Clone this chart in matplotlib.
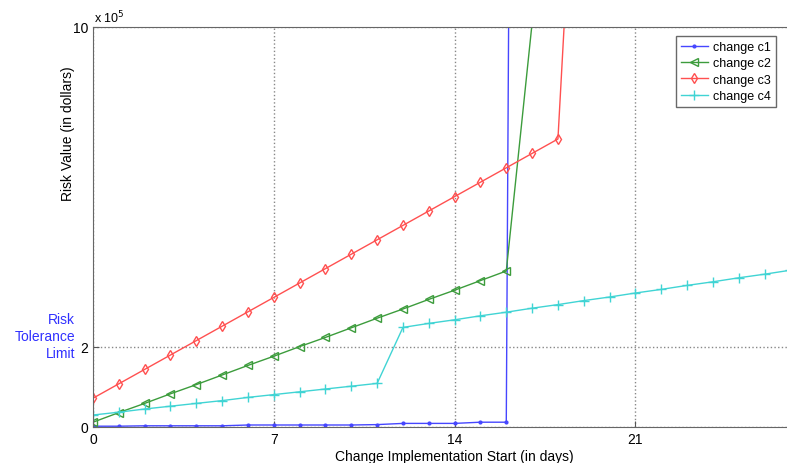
import matplotlib
matplotlib.use("Agg")
import matplotlib.pyplot as plt

# data (values in units of 1e5 dollars)
days_c1 = list(range(0, 18))
risk_c1 = [0.02, 0.02, 0.03, 0.03, 0.03, 0.03, 0.05, 0.05, 0.05, 0.05, 0.05,
           0.06, 0.09, 0.09, 0.09, 0.12, 0.12, 110]
days_c2 = list(range(0, 18))
risk_c2 = [0.12, 0.36, 0.59, 0.83, 1.06, 1.30, 1.54, 1.77, 2.01, 2.24, 2.48,
           2.72, 2.95, 3.19, 3.42, 3.66, 3.90, 10.1]
days_c3 = list(range(0, 20))
risk_c3 = [0.72, 1.08, 1.44, 1.80, 2.16, 2.52, 2.88, 3.24, 3.60, 3.96, 4.32,
           4.68, 5.04, 5.40, 5.76, 6.12, 6.48, 6.84, 7.20, 19.0]
days_c4 = list(range(0, 29))
risk_c4 = [0.30, 0.37, 0.45, 0.52, 0.59, 0.66, 0.74, 0.81, 0.88, 0.95, 1.02,
           1.09, 2.49, 2.59, 2.68, 2.78, 2.87, 2.97, 3.06, 3.16, 3.25, 3.35,
           3.44, 3.54, 3.63, 3.73, 3.82, 3.92, 4.01]

x_ticks = [0, 7, 14, 21]
y_ticks = [0, 2, 10]
series_names = ["change c1", "change c2", "change c3", "change c4"]

plt.rcParams['font.family'] = ['Liberation Sans', 'DejaVu Sans']

W, H = 787, 464
fig = plt.figure(figsize=(W / 100, H / 100), dpi=100)
# x=0 at 93 px, 25.83 px per day; y: 28..428 px (right edge runs off the image)
ax = fig.add_axes([93 / W, 36 / H, 28 * 25.83 / W, 400 / H])

ax.plot(days_c1, risk_c1, color='#4646ff', marker='.', ms=4, lw=1,
        label=series_names[0])
ax.plot(days_c2, risk_c2, color='#3c9c3c', marker='<', ms=5.5, mfc='none',
        lw=1, label=series_names[1])
ax.plot(days_c3, risk_c3, color='#ff5050', marker='d', ms=5.5, mfc='none',
        lw=1, label=series_names[2])
ax.plot(days_c4, risk_c4, color='#40d4d4', marker='+', ms=7, lw=1,
        label=series_names[3])

ax.set_xlim(0, 28)
ax.set_ylim(0, 10)
ax.set_xticks(x_ticks)
ax.set_yticks(y_ticks)
ax.tick_params(direction='in', labelsize=10, length=4, color='#555555')
ax.grid(True, linestyle=':', color='#888888', lw=1)
for s in ax.spines.values():
    s.set_color('#666666')

ax.set_xlabel("Change Implementation Start (in days)", fontsize=10, labelpad=2)
fig.text(68 / W, 1 - 134 / H, "Risk Value (in dollars)", rotation=90,
         ha='center', va='center', fontsize=10)
ax.text(0.002, 1.004, r"x 10$^5$", transform=ax.transAxes, fontsize=9,
        ha='left', va='bottom')
fig.text(75 / W, 1 - 337 / H, "Risk\nTolerance\nLimit", color='#3030ff',
         ha='right', va='center', fontsize=10, linespacing=1.25)

ax.legend(loc='upper right', bbox_to_anchor=(776 / W, 1 - 37 / H),
          bbox_transform=fig.transFigure, fontsize=9, fancybox=False,
          edgecolor='#444444', handlelength=2.2, borderpad=0.4,
          labelspacing=0.35, handletextpad=0.4, borderaxespad=0)

fig.savefig("out.png", dpi=100)
